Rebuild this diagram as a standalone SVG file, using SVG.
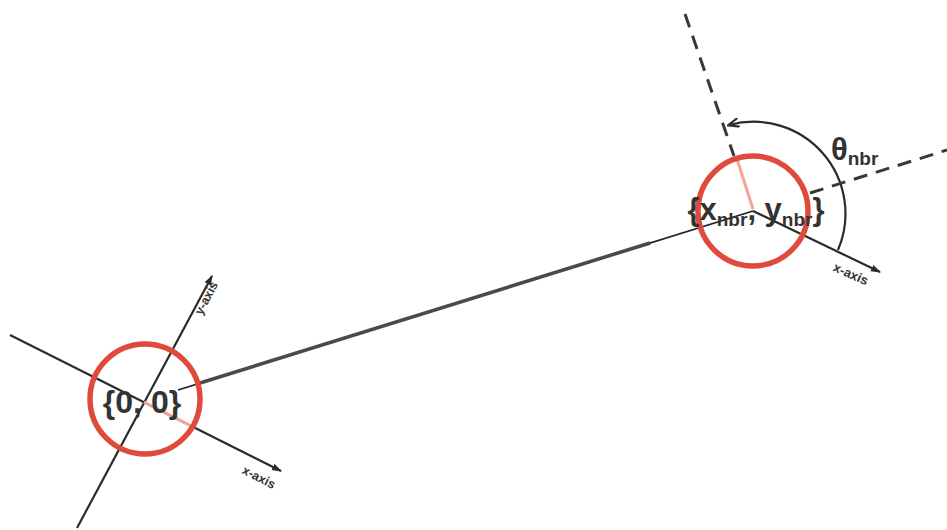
<svg xmlns="http://www.w3.org/2000/svg" width="947" height="530" viewBox="0 0 947 530">
  <style>
    .axis { stroke: #2b2b2b; stroke-width: 2.2; fill: none; }
    .ring { stroke: #e04a3a; stroke-width: 5.5; fill: none; }
    .pink { stroke: #f2a596; stroke-width: 3; fill: none; }
    .dash { stroke: #383838; stroke-width: 3; stroke-dasharray: 14 9; fill: none; }
    .lbl { font-family: "Liberation Sans", Arial, sans-serif; fill: #333; font-weight: bold; }
  </style>
  <defs>
    <marker id="ah" viewBox="0 0 10 8" refX="9" refY="4" markerWidth="10" markerHeight="8" markerUnits="userSpaceOnUse" orient="auto">
      <path d="M0,0.5 L10,4 L0,7.5 z" fill="#2b2b2b"/>
    </marker>
    <marker id="ah2" viewBox="0 0 12 10" refX="10" refY="5" markerWidth="12" markerHeight="10" markerUnits="userSpaceOnUse" orient="auto">
      <path d="M0,0.5 L11,5 L0,9.5" fill="none" stroke="#333" stroke-width="2.2"/>
    </marker>
  </defs>
  <rect width="947" height="530" fill="#ffffff"/>

  <g id="connectors">
    <line x1="178" y1="390" x2="753" y2="211" stroke="#222" stroke-width="1.8"/>
    <line x1="200" y1="383" x2="650" y2="243" stroke="#4a4a4a" stroke-width="3.6"/>
    <path d="M 838 250 A 92 92 0 0 0 729 125" class="axis" stroke-width="2.6" marker-end="url(#ah2)"/>
  </g>

  <g id="node-origin">
    <line class="axis" x1="10" y1="335" x2="281" y2="471" marker-end="url(#ah)"/>
    <line class="axis" x1="77" y1="528" x2="212" y2="276" marker-end="url(#ah)"/>
    <line class="pink" x1="144" y1="402" x2="191" y2="426"/>
    <circle class="ring" cx="145" cy="399" r="55"/>
    <text class="lbl" x="142" y="413" font-size="32" text-anchor="middle">{0, 0}</text>
    <text class="lbl" font-size="12.5" text-anchor="middle" transform="translate(257,481) rotate(27)">x-axis</text>
    <text class="lbl" font-size="12.5" text-anchor="middle" transform="translate(210,300) rotate(-62)">y-axis</text>
  </g>

  <g id="node-nbr">
    <line class="axis" x1="753" y1="211" x2="880" y2="272" marker-end="url(#ah)"/>
    <line class="dash" x1="685" y1="14" x2="734" y2="156"/>
    <line class="dash" x1="810" y1="193" x2="947" y2="150"/>
    <line class="pink" x1="736" y1="156" x2="753" y2="209"/>
    <circle class="ring" cx="753" cy="211" r="55"/>
    <text class="lbl" x="756" y="220" font-size="31" text-anchor="middle">{x<tspan font-size="19" dy="6">nbr</tspan><tspan dy="-6">, y</tspan><tspan font-size="19" dy="6">nbr</tspan><tspan dy="-6">}</tspan></text>
    <text class="lbl" font-size="13" text-anchor="middle" transform="translate(849,278) rotate(24)">x-axis</text>
    <text class="lbl" x="831" y="160" font-size="31">θ<tspan font-size="19" dy="5">nbr</tspan></text>
  </g>
</svg>
